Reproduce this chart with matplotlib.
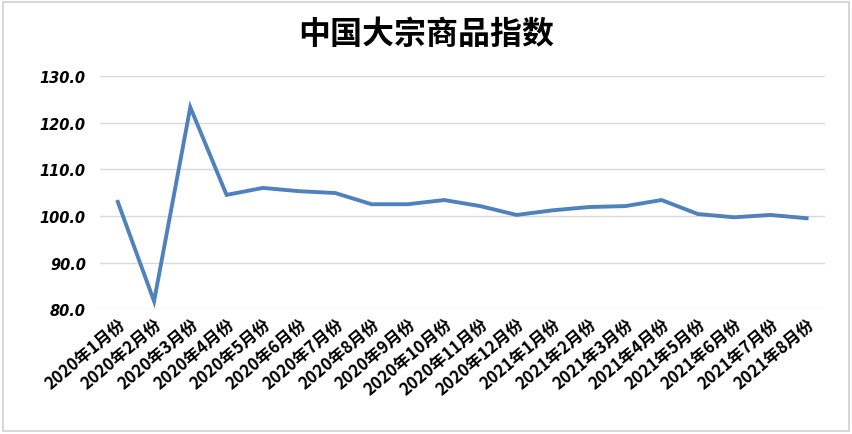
import matplotlib
matplotlib.use("Agg")
import matplotlib.pyplot as plt
from matplotlib.patches import Rectangle

plt.rcParams['font.family'] = ['Noto Sans CJK SC', 'DejaVu Sans']

months = ["2020年1月份", "2020年2月份", "2020年3月份", "2020年4月份", "2020年5月份",
          "2020年6月份", "2020年7月份", "2020年8月份", "2020年9月份", "2020年10月份",
          "2020年11月份", "2020年12月份", "2021年1月份", "2021年2月份", "2021年3月份",
          "2021年4月份", "2021年5月份", "2021年6月份", "2021年7月份", "2021年8月份"]
index_values = [103.0, 81.7, 123.3, 104.5, 106.0, 105.3, 104.9, 102.5, 102.5, 103.4,
                102.1, 100.2, 101.2, 101.9, 102.1, 103.4, 100.4, 99.7, 100.2, 99.5]
yticks = [80.0, 90.0, 100.0, 110.0, 120.0, 130.0]
title = "中国大宗商品指数"

fig = plt.figure(figsize=(8.52, 4.35), dpi=100)
fig.patch.set_facecolor("white")
fig.add_artist(Rectangle((0.004, 0.006), 0.992, 0.988, transform=fig.transFigure,
                         fill=False, edgecolor="#d0d0d0", linewidth=1.2))

ax = fig.add_axes([0.117, 0.287, 0.851, 0.536])
x = list(range(len(months)))
ax.plot(x, index_values, color="#4f81bd", linewidth=2.8, solid_joinstyle="miter")

ax.set_xlim(-0.5, len(months) - 0.5)
ax.set_ylim(80, 130)
ax.set_yticks(yticks)
ax.set_yticklabels([f"{v:.1f}" for v in yticks], fontsize=10.5, fontstyle="italic",
                   fontweight="bold", family=["DejaVu Sans"])
ax.set_xticks(x)
ax.set_xticklabels(months, rotation=40, ha="right", va="top", rotation_mode="anchor",
                   fontsize=12, fontweight="bold")
ax.tick_params(axis="both", length=0)
ax.tick_params(axis="x", pad=4)
ax.tick_params(axis="y", pad=10)
ax.grid(axis="y", color="#d9d9d9", linewidth=1)
ax.set_axisbelow(True)
for s in ax.spines.values():
    s.set_visible(False)

fig.text(0.5, 0.92, title, ha="center", va="center", fontsize=23, fontweight="bold")

fig.savefig("out.png", dpi=100)
